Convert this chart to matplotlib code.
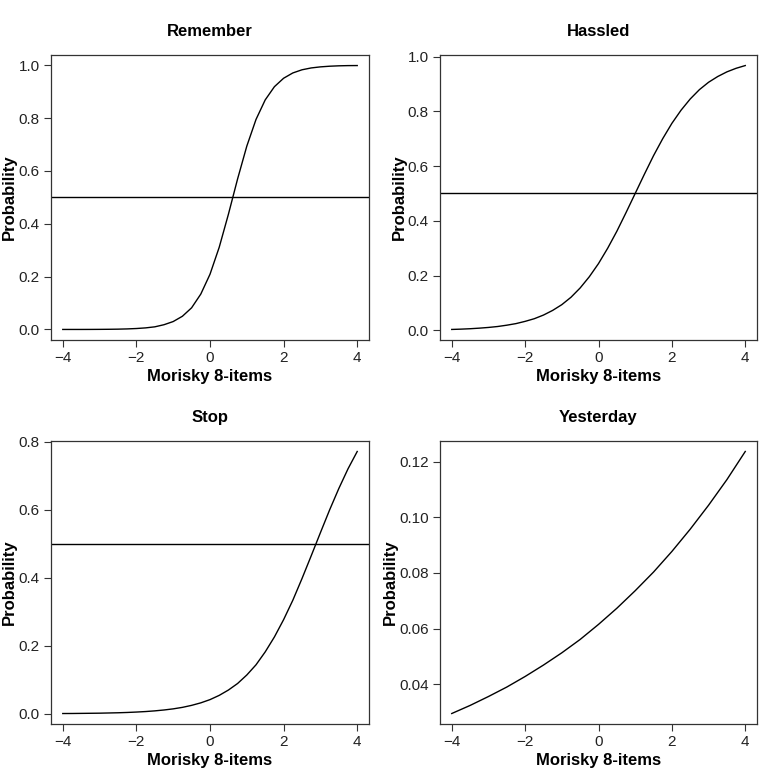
#!/usr/bin/env python3

"""
Item characteristic curves for four Morisky items (2x2 panels, R base-graphics look).
"""

import matplotlib
matplotlib.use("Agg")
import matplotlib.pyplot as plt
from matplotlib.ticker import FormatStrFormatter

plt.rcParams["font.family"] = ["Liberation Sans", "DejaVu Sans"]

# Values (quarter steps on the ability axis)
x_q = [-4, -3.75, -3.5, -3.25, -3, -2.75, -2.5, -2.25, -2, -1.75, -1.5, -1.25, -1,
       -0.75, -0.5, -0.25, 0, 0.25, 0.5, 0.75, 1, 1.25, 1.5, 1.75, 2, 2.25, 2.5,
       2.75, 3, 3.25, 3.5, 3.75, 4]
remember = [0.0001, 0.0001, 0.0001, 0.0002, 0.0004, 0.0007, 0.0012, 0.0021, 0.0036,
            0.006, 0.010, 0.018, 0.030, 0.050, 0.082, 0.134, 0.209, 0.311, 0.436,
            0.570, 0.694, 0.795, 0.869, 0.919, 0.951, 0.971, 0.983, 0.990, 0.994,
            0.9965, 0.998, 0.9988, 0.999]
hassled = [0.0035, 0.0046, 0.0061, 0.0082, 0.0108, 0.0142, 0.019, 0.0248, 0.033,
           0.0427, 0.056, 0.073, 0.094, 0.121, 0.155, 0.196, 0.244, 0.300, 0.362,
           0.430, 0.500, 0.570, 0.638, 0.700, 0.756, 0.804, 0.845, 0.879, 0.906,
           0.927, 0.944, 0.957, 0.967]
stop = [0.0006, 0.0007, 0.0010, 0.0013, 0.0016, 0.0022, 0.0028, 0.0037, 0.0049,
        0.0064, 0.0084, 0.0110, 0.0143, 0.0187, 0.0246, 0.032, 0.0415, 0.054,
        0.0697, 0.089, 0.114, 0.144, 0.182, 0.226, 0.277, 0.334, 0.398, 0.465,
        0.533, 0.600, 0.663, 0.721, 0.772]

x_half = [-4, -3.5, -3, -2.5, -2, -1.5, -1, -0.5, 0, 0.5, 1, 1.5, 2, 2.5, 3, 3.5, 4]
yesterday = [0.0295, 0.0324, 0.0356, 0.0390, 0.0428, 0.0469, 0.0513, 0.0561, 0.0615,
             0.0673, 0.0736, 0.0803, 0.0877, 0.0957, 0.1043, 0.1135, 0.1236]

x_ticks = [-4, -2, 0, 2, 4]
x_ticklabels = ["\u22124", "\u22122", "0", "2", "4"]

panels = [
    ("Remember", x_q, remember, [0.0, 0.2, 0.4, 0.6, 0.8, 1.0], "%.1f", True),
    ("Hassled", x_q, hassled, [0.0, 0.2, 0.4, 0.6, 0.8, 1.0], "%.1f", True),
    ("Stop", x_q, stop, [0.0, 0.2, 0.4, 0.6, 0.8], "%.1f", True),
    ("Yesterday", x_half, yesterday, [0.04, 0.06, 0.08, 0.10, 0.12], "%.2f", False),
]

# axes boxes in pixels: left, top, right, bottom
W, H = 759, 771
boxes = [(51, 55, 369, 340), (440, 55, 757, 340),
         (51, 441, 369, 724), (440, 441, 757, 724)]

fig = plt.figure(figsize=(W / 100, H / 100), dpi=100)

for (title, xs, ys, yticks, fmt, half_line), (l, t, r, b) in zip(panels, boxes):
    ax = fig.add_axes([l / W, 1 - b / H, (r - l) / W, (b - t) / H])
    ax.plot(xs, ys, color="black", lw=1.0)
    if half_line:
        ax.axhline(0.5, color="black", lw=1.0)

    # R-style 4% padding around the data range
    lo, hi = min(ys), max(ys)
    pad = (hi - lo) * 0.04
    ax.set_ylim(lo - pad, hi + pad)
    ax.set_xlim(-4.32, 4.32)

    ax.set_xticks(x_ticks)
    ax.set_xticklabels(x_ticklabels)
    ax.set_yticks(yticks)
    ax.yaxis.set_major_formatter(FormatStrFormatter(fmt))
    ax.tick_params(direction="out", length=5, width=0.8, labelsize=11,
                   color="#333333", labelcolor="#222222", pad=3)

    for s in ax.spines.values():
        s.set_linewidth(0.9)
        s.set_color("#333333")

    ax.set_title(title, fontsize=12, fontweight="bold", pad=14)
    ax.set_xlabel("Morisky 8-items", fontsize=12, fontweight="bold", labelpad=3)
    ax.set_ylabel("Probability", fontsize=12, fontweight="bold", labelpad=1)

fig.savefig("out.png", dpi=100)
